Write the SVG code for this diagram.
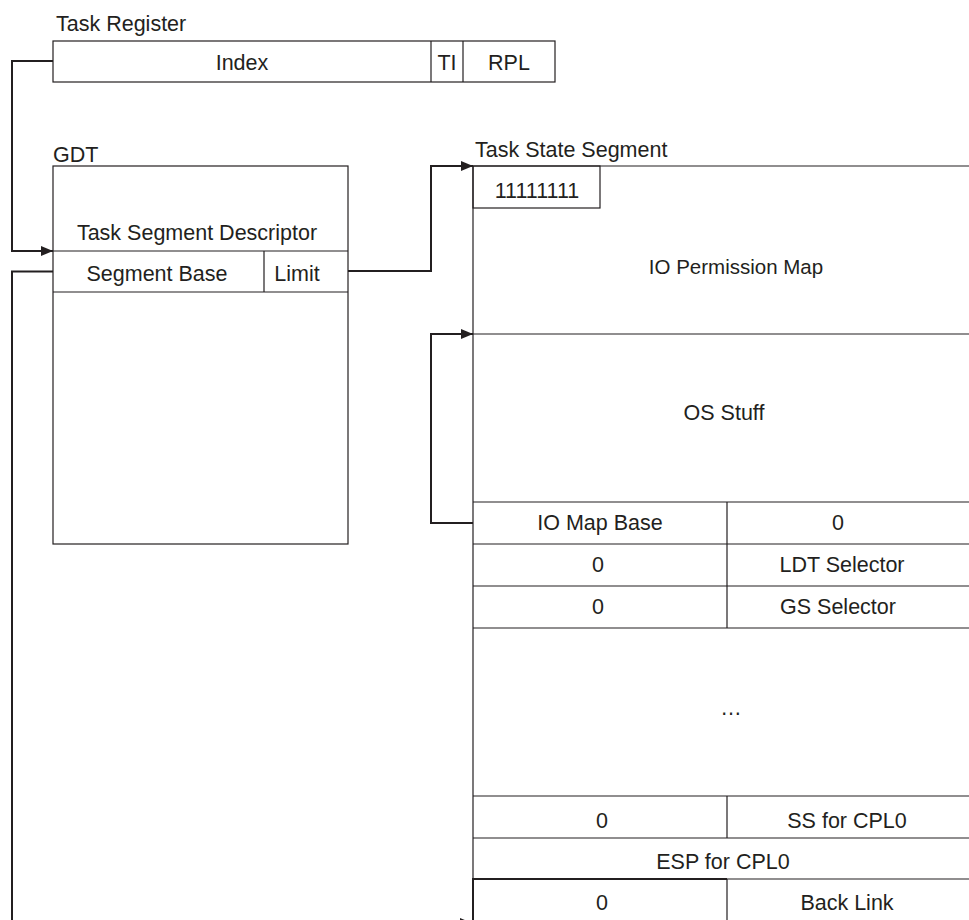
<svg xmlns="http://www.w3.org/2000/svg" width="969" height="920" viewBox="0 0 969 920">
<defs>
<style>
.t{font-family:"Liberation Sans",Arial,sans-serif;font-size:21.5px;fill:#231f20}
.c{text-anchor:middle}
.box{fill:none;stroke:#231f20;stroke-width:1.2}
.ln{stroke:#231f20;stroke-width:1.2;fill:none}
.con{fill:none;stroke:#231f20;stroke-width:2}
</style>
<marker id="arr" viewBox="0 0 12 10" refX="12" refY="5" markerWidth="12" markerHeight="10" markerUnits="userSpaceOnUse" orient="auto">
<path d="M0,0 L12,5 L0,10 z" fill="#231f20"/>
</marker>
</defs>
<rect width="969" height="920" fill="#ffffff"/>

<g id="task-register">
<text class="t" x="56" y="31">Task Register</text>
<rect class="box" x="53" y="41" width="502" height="41"/>
<line class="ln" x1="431" y1="41" x2="431" y2="82"/>
<line class="ln" x1="463" y1="41" x2="463" y2="82"/>
<text class="t c" x="242" y="70">Index</text>
<text class="t c" x="447" y="70">TI</text>
<text class="t c" x="509" y="70">RPL</text>
</g>

<g id="gdt">
<text class="t" x="53" y="162">GDT</text>
<rect class="box" x="53" y="166" width="295" height="378"/>
<line class="ln" x1="53" y1="251" x2="348" y2="251"/>
<line class="ln" x1="53" y1="292" x2="348" y2="292"/>
<line class="ln" x1="264" y1="251" x2="264" y2="292"/>
<text class="t c" x="197" y="240">Task Segment Descriptor</text>
<text class="t c" x="157" y="281">Segment Base</text>
<text class="t c" x="297" y="281">Limit</text>
</g>

<g id="tss">
<text class="t" x="475" y="157">Task State Segment</text>
<line class="ln" x1="473" y1="166" x2="473" y2="920"/>
<line class="ln" x1="473" y1="166" x2="969" y2="166"/>
<rect class="box" x="473" y="166" width="127" height="42"/>
<text class="t c" x="537" y="198">11111111</text>
<text class="t c" x="736" y="274" style="font-size:20.5px">IO Permission Map</text>
<line class="ln" x1="473" y1="334" x2="969" y2="334"/>
<text class="t c" x="724" y="420">OS Stuff</text>
<line class="ln" x1="473" y1="502" x2="969" y2="502"/>
<line class="ln" x1="473" y1="544" x2="969" y2="544"/>
<line class="ln" x1="473" y1="586" x2="969" y2="586"/>
<line class="ln" x1="473" y1="628" x2="969" y2="628"/>
<line class="ln" x1="727" y1="502" x2="727" y2="628"/>
<text class="t c" x="600" y="530">IO Map Base</text>
<text class="t c" x="838" y="530">0</text>
<text class="t c" x="598" y="572">0</text>
<text class="t c" x="842" y="572">LDT Selector</text>
<text class="t c" x="598" y="614">0</text>
<text class="t c" x="838" y="614">GS Selector</text>
<text class="t c" x="731" y="715">…</text>
<line class="ln" x1="473" y1="796" x2="969" y2="796"/>
<line class="ln" x1="473" y1="838" x2="969" y2="838"/>
<line class="ln" x1="727" y1="796" x2="727" y2="838"/>
<text class="t c" x="602" y="828">0</text>
<text class="t c" x="847" y="828">SS for CPL0</text>
<text class="t c" x="723" y="869">ESP for CPL0</text>
<line class="ln" x1="473" y1="879" x2="969" y2="879"/>
<path d="M473,920 V879 H727" fill="none" stroke="#231f20" stroke-width="2"/>
<line class="ln" x1="727" y1="879" x2="727" y2="920"/>
<text class="t c" x="602" y="910">0</text>
<text class="t c" x="847" y="910">Back Link</text>
</g>

<g id="connectors">
<path class="con" d="M53,61 H12 V251 H53" marker-end="url(#arr)"/>
<path class="con" d="M53,271.5 H12 V923 H472" marker-end="url(#arr)"/>
<path class="con" d="M348,271 H431 V166 H473" marker-end="url(#arr)"/>
<path class="con" d="M473,523 H431 V334 H473" marker-end="url(#arr)"/>
</g>
</svg>
